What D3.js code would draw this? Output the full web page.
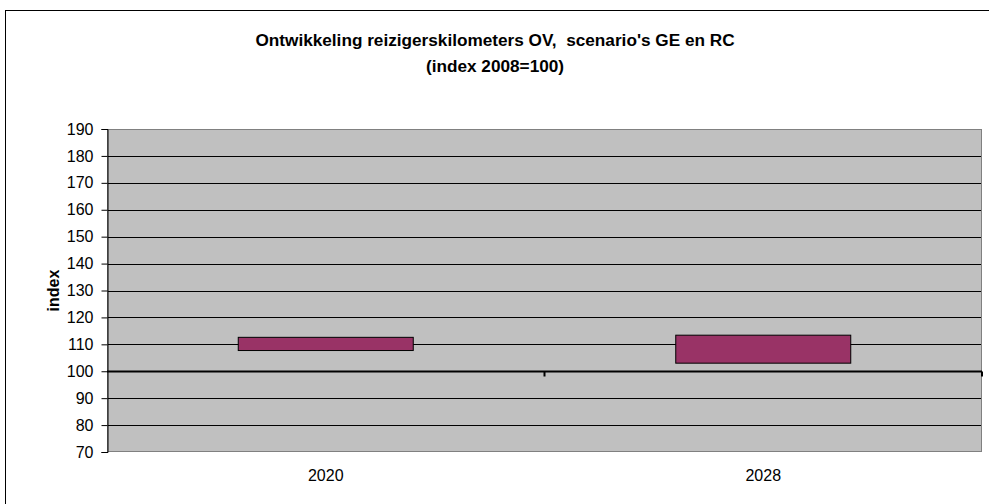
<!DOCTYPE html>
<html>
<head>
<meta charset="utf-8">
<script src="https://cdn.jsdelivr.net/npm/d3@7"></script>
<style>
  body { margin: 0; background: #fff; }
  text { font-family: "Liberation Sans", Arial, sans-serif; }
</style>
</head>
<body>
<div id="chart"></div>
<script>
const categories = ["2020", "2028"];
const lowValues = [107.7, 103.0];   // scenario RC
const highValues = [112.6, 113.4];  // scenario GE
const yTicks = [70, 80, 90, 100, 110, 120, 130, 140, 150, 160, 170, 180, 190];

const W = 989, H = 504;
const margin = {top: 129, right: 7, bottom: 52, left: 107},
    width = W - margin.left - margin.right,
    height = H - margin.top - margin.bottom;

const root = d3.select("#chart")
  .append("svg")
    .attr("width", W)
    .attr("height", H);

// outer chart frame
root.append("rect")
  .attr("x", 5.5).attr("y", 10.5)
  .attr("width", W + 10).attr("height", H + 10)
  .attr("fill", "none")
  .attr("stroke", "#000")
  .attr("stroke-width", 1);

root.append("text")
  .attr("x", 495).attr("y", 46)
  .attr("text-anchor", "middle")
  .style("font-size", "17.2px")
  .style("font-weight", "bold")
  .style("white-space", "pre")
  .text("Ontwikkeling reizigerskilometers OV,  scenario's GE en RC");
root.append("text")
  .attr("x", 495).attr("y", 72)
  .attr("text-anchor", "middle")
  .style("font-size", "17.2px")
  .style("font-weight", "bold")
  .text("(index 2008=100)");

const svg = root.append("g")
  .attr("transform", `translate(${margin.left},${margin.top})`);

const x = d3.scaleBand()
  .domain(categories)
  .range([0, width])
  .paddingInner(0)
  .paddingOuter(0);

const y = d3.scaleLinear()
  .domain([70, 190])
  .range([height, 0]);

// plot background
svg.append("rect")
  .attr("width", width).attr("height", height)
  .attr("fill", "#c0c0c0");

// gridlines
svg.selectAll("line.grid")
  .data(yTicks.filter(d => d !== 70 && d !== 190 && d !== 100))
  .join("line")
    .attr("class", "grid")
    .attr("x1", 0).attr("x2", width)
    .attr("y1", d => Math.round(y(d)) + 0.5)
    .attr("y2", d => Math.round(y(d)) + 0.5)
    .attr("stroke", "#000")
    .attr("stroke-width", 1);

// plot border
svg.append("rect")
  .attr("x", 0.5).attr("y", 0.5)
  .attr("width", width - 1).attr("height", height - 1)
  .attr("fill", "none")
  .attr("stroke", "#808080");

// y axis
const yAxis = svg.append("g")
  .attr("transform", "translate(0.5,0)")
  .call(d3.axisLeft(y).tickValues(yTicks).tickSize(6).tickPadding(8));
yAxis.select(".domain").attr("stroke", "#000");
yAxis.selectAll(".tick line").attr("stroke", "#000");
yAxis.selectAll("text")
  .style("font-size", "16px")
  .attr("fill", "#000");

svg.append("text")
  .attr("transform", `translate(${-54},${y(130)}) rotate(-90)`)
  .attr("text-anchor", "middle")
  .attr("dy", "0.35em")
  .style("font-size", "16px")
  .style("font-weight", "bold")
  .text("index");

// floating bars
const bw = x.bandwidth() * 0.4;
svg.selectAll("rect.bar")
  .data(categories)
  .join("rect")
    .attr("class", "bar")
    .attr("x", (d, i) => x(d) + (x.bandwidth() - bw) / 2)
    .attr("y", (d, i) => y(highValues[i]))
    .attr("width", bw)
    .attr("height", (d, i) => y(lowValues[i]) - y(highValues[i]))
    .attr("fill", "#993366")
    .attr("stroke", "#000")
    .attr("stroke-width", 1);

// category axis crossing at 100
const y100 = Math.round(y(100)) + 0.5;
svg.append("line")
  .attr("x1", 0).attr("x2", width)
  .attr("y1", y100).attr("y2", y100)
  .attr("stroke", "#000")
  .attr("stroke-width", 2);
svg.selectAll("line.xtick")
  .data(categories)
  .join("line")
    .attr("class", "xtick")
    .attr("x1", d => x(d) + x.bandwidth())
    .attr("x2", d => x(d) + x.bandwidth())
    .attr("y1", y100).attr("y2", y100 + 5)
    .attr("stroke", "#000")
    .attr("stroke-width", 2);

// category labels at bottom
svg.selectAll("text.cat")
  .data(categories)
  .join("text")
    .attr("class", "cat")
    .attr("x", d => x(d) + x.bandwidth() / 2)
    .attr("y", height + 29)
    .attr("text-anchor", "middle")
    .style("font-size", "16px")
    .text(d => d);
</script>
</body>
</html>
